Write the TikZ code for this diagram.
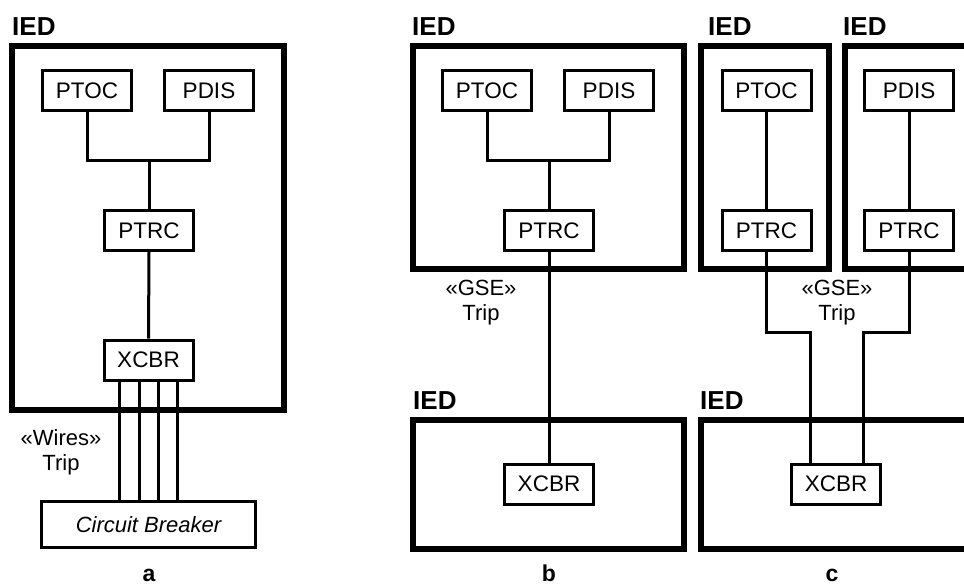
\documentclass[tikz,border=0pt]{standalone}
\usepackage{fontspec}
\setmainfont{Liberation Sans}
\begin{document}
\begin{tikzpicture}[x=1pt,y=-1pt,
  fbox/.style={draw, line width=3pt, minimum width=89pt, minimum height=40pt, inner sep=0pt, font=\fontsize{22.5}{25}\selectfont},
  iedbox/.style={draw, line width=6pt},
  conn/.style={line width=3pt},
  iedlbl/.style={anchor=base west, inner sep=0pt, font=\fontsize{26}{29}\selectfont\bfseries},
  lbl/.style={align=center, inner sep=0pt, font=\fontsize{22}{25}\selectfont},
  caplbl/.style={anchor=base, inner sep=0pt, font=\fontsize{23}{26}\selectfont\bfseries}]
\useasboundingbox (0,0) rectangle (964,587);

% ---------- outer IED boxes ----------
\draw[iedbox] (11.5,45.5) rectangle (284,410);
\draw[iedbox] (413,45.5) rectangle (684,269);
\draw[iedbox] (413,419.5) rectangle (684,549);
\draw[iedbox] (701,45.5) rectangle (829,269);
\draw[iedbox] (964,45.5) -- (845,45.5) -- (845,269) -- (964,269);
\draw[iedbox] (964,419.5) -- (701,419.5) -- (701,549) -- (964,549);

% ---------- IED labels ----------
\node[iedlbl] (ieda) at (12,35) {IED};
\node[iedlbl] (iedb) at (412,35) {IED};
\node[iedlbl] (iedb2) at (413,409) {IED};
\node[iedlbl] (iedc1) at (708,35) {IED};
\node[iedlbl] (iedc2) at (843,35) {IED};
\node[iedlbl] (iedc3) at (700,409) {IED};

% ---------- panel a ----------
\node[fbox] (ptoca) at (87,90.5) {PTOC};
\node[fbox] (pdisa) at (209,90.5) {PDIS};
\node[fbox] (ptrca) at (149,230.5) {PTRC};
\node[fbox] (xcbra) at (148.5,360) {XCBR};
\node[fbox, minimum width=214pt, minimum height=46pt, font=\fontsize{22}{25}\selectfont\itshape] (cb) at (148.5,524.5) {Circuit Breaker};
\coordinate (ja) at (149,160);
\draw[conn] (ptoca.south) |- (ja) -| (pdisa.south);
\draw[conn] (ja) -- (ptrca.north);
\draw[conn] (ptrca.south) -- (xcbra.north);
\foreach \dx in {-29.5,-9.5,9.5,28.5}{
  \draw[conn] ([xshift=\dx pt]xcbra.south) -- ([xshift=\dx pt]xcbra.south |- cb.north);
}
\node[lbl] (wires) at (61,452) {«Wires»\\Trip};
\node[caplbl] (capa) at (149,581) {a};

% ---------- panel b ----------
\node[fbox] (ptocb) at (487,90.5) {PTOC};
\node[fbox] (pdisb) at (609,90.5) {PDIS};
\node[fbox] (ptrcb) at (549,230.5) {PTRC};
\node[fbox] (xcbrb) at (549,484) {XCBR};
\coordinate (jb) at (549,160);
\draw[conn] (ptocb.south) |- (jb) -| (pdisb.south);
\draw[conn] (jb) -- (ptrcb.north);
\draw[conn] (ptrcb.south) -- (xcbrb.north);
\node[lbl] (gseb) at (481,303) {«GSE»\\Trip};
\node[caplbl] (capb) at (549,581) {b};

% ---------- panel c ----------
\node[fbox] (ptocc) at (766.5,90.5) {PTOC};
\node[fbox] (ptrcc1) at (766.5,230.5) {PTRC};
\node[fbox] (pdisc) at (909,90.5) {PDIS};
\node[fbox] (ptrcc2) at (909,230.5) {PTRC};
\node[fbox] (xcbrc) at (836,484) {XCBR};
\draw[conn] (ptocc.south) -- (ptrcc1.north);
\draw[conn] (pdisc.south) -- (ptrcc2.north);
\coordinate (g1) at (810,332);
\coordinate (g2) at (863,332);
\draw[conn] (ptrcc1.south) |- (g1) -- (g1 |- xcbrc.north);
\draw[conn] (ptrcc2.south) |- (g2) -- (g2 |- xcbrc.north);
\node[lbl] (gsec) at (837,303) {«GSE»\\Trip};
\node[caplbl] (capc) at (832,581) {c};
\end{tikzpicture}
\end{document}
